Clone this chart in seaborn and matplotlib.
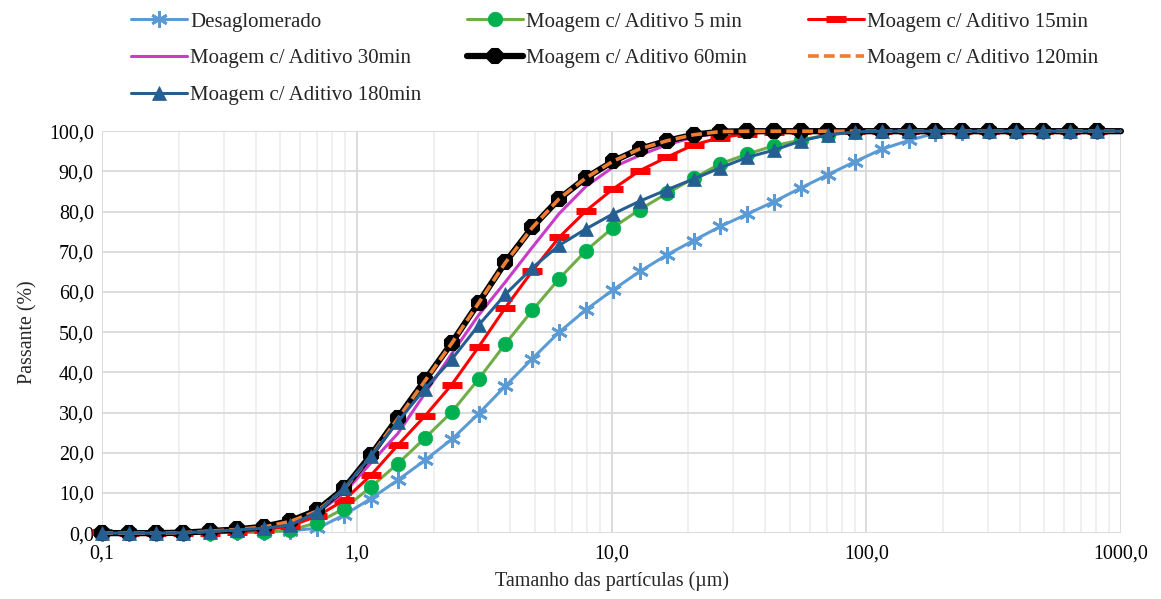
import matplotlib
matplotlib.use("Agg")
import matplotlib.pyplot as plt
from matplotlib.ticker import FixedLocator, LogLocator, NullFormatter, FuncFormatter
import seaborn as sns

# ---- data ----
sizes = [0.100, 0.128, 0.163, 0.207, 0.264, 0.337, 0.430, 0.548, 0.699, 0.891,
         1.136, 1.449, 1.848, 2.356, 3.004, 3.830, 4.884, 6.228, 7.941, 10.12,
         12.91, 16.46, 20.99, 26.76, 34.12, 43.51, 55.48, 70.74, 90.20, 115.0,
         146.7, 187.0, 238.4, 304.1, 387.7, 494.4, 630.4, 803.5, 1000.0]

desaglomerado = [0, 0, 0, 0, 0.1, 0.2, 0.4, 0.6, 1.2, 4.5,
                 8.6, 13.2, 18.1, 23.3, 29.7, 36.6, 43.4, 50.0, 55.6, 60.5,
                 65.1, 69.2, 72.8, 76.3, 79.4, 82.5, 85.9, 89.2, 92.4, 95.5,
                 97.7, 99.5, 99.9, 100, 100, 100, 100, 100, 100]

moagem_5 = [0, 0, 0, 0, 0.1, 0.2, 0.2, 0.7, 2.6, 6.1,
            11.5, 17.3, 23.6, 30.1, 38.3, 47.1, 55.4, 63.3, 70.3, 76.0,
            80.5, 84.5, 88.3, 91.9, 94.3, 96.4, 97.8, 99.1, 99.8, 100,
            100, 100, 100, 100, 100, 100, 100, 100, 100]

moagem_15 = [0.3, 0, 0, 0, 0.1, 0.3, 0.8, 1.8, 4.2, 8.2,
             14.4, 21.9, 29.1, 36.9, 46.3, 56.1, 65.2, 73.6, 80.2, 85.6,
             90.2, 93.5, 96.6, 98.4, 99.4, 99.9, 100, 100, 100, 100,
             100, 100, 100, 100, 100, 100, 100, 100, 100]

moagem_30 = [0, 0, 0, 0, 0.2, 0.6, 1.3, 2.5, 5.0, 10.0,
             17.5, 24.8, 34.7, 44.6, 54.2, 62.5, 71.1, 79.5, 86.3, 91.0,
             94.0, 96.6, 98.5, 99.6, 100, 100, 100, 100, 100, 100,
             100, 100, 100, 100, 100, 100, 100, 100, 100]

moagem_60 = [0, 0, 0, 0.1, 0.5, 0.9, 1.6, 3.0, 5.7, 11.1,
             19.4, 28.7, 38.0, 47.3, 57.3, 67.4, 76.1, 83.2, 88.4, 92.5,
             95.6, 97.6, 99.1, 99.9, 100, 100, 100, 100, 100, 100,
             100, 100, 100, 100, 100, 100, 100, 100, 100]

moagem_120 = [0, 0, 0, 0.1, 0.5, 0.9, 1.5, 2.9, 5.5, 10.9,
              19.2, 28.5, 37.8, 47.2, 57.2, 67.3, 76.0, 83.2, 88.4, 92.5,
              95.6, 97.6, 99.1, 99.9, 100, 100, 100, 100, 100, 100,
              100, 100, 100, 100, 100, 100, 100, 100, 100]

moagem_180 = [0, 0, 0, 0.1, 0.4, 0.8, 1.2, 2.0, 5.3, 11.1,
              19.2, 27.7, 35.9, 43.2, 51.7, 59.4, 66.0, 71.6, 75.7, 79.4,
              82.6, 85.4, 88.1, 90.9, 93.5, 95.3, 97.6, 99.1, 99.8, 100,
              100, 100, 100, 100, 100, 100, 100, 100, 100]

labels = ["Desaglomerado", "Moagem c/ Aditivo 5 min", "Moagem c/ Aditivo 15min",
          "Moagem c/ Aditivo 30min", "Moagem c/ Aditivo 60min",
          "Moagem c/ Aditivo 120min", "Moagem c/ Aditivo 180min"]
x_ticks = [0.1, 1, 10, 100, 1000]
x_tick_labels = ["0,1", "1,0", "10,0", "100,0", "1000,0"]
y_ticks = [0, 10, 20, 30, 40, 50, 60, 70, 80, 90, 100]

# ---- style ----
sns.set_theme(style="white")
plt.rcParams["font.family"] = ["Liberation Serif", "DejaVu Serif"]
FS = 14.4
LFS = 15.0

fig = plt.figure(figsize=(11.61, 5.99), dpi=100)
ax = fig.add_axes([0.088, 0.110, 0.8775, 0.671])

styles = [
    dict(color="#5B9BD5", lw=2.2, marker=(6, 2, 0), markersize=12,
         markeredgecolor="#5B9BD5", markerfacecolor="#5B9BD5", markeredgewidth=2.0),
    dict(color="#70AD47", lw=2.2, marker="o", markersize=10.5,
         markeredgecolor="#00B050", markerfacecolor="#00B050", markeredgewidth=0.5),
    dict(color="#FF0000", lw=2.2, marker="_", markersize=14,
         markeredgecolor="#FF0000", markerfacecolor="#FF0000", markeredgewidth=5),
    dict(color="#C83CC8", lw=2.2),
    dict(color="black", lw=4.5, marker="8", markersize=11,
         markeredgecolor="black", markerfacecolor="black", markeredgewidth=1.5),
    dict(color="#ED7D31", lw=2.6, dashes=(3.0, 1.4)),
    dict(color="#255E91", lw=2.2, marker="^", markersize=10,
         markeredgecolor="#255E91", markerfacecolor="#255E91", markeredgewidth=0.5),
]
series = [desaglomerado, moagem_5, moagem_15, moagem_30, moagem_60, moagem_120, moagem_180]
mark_idx = list(range(len(sizes) - 1))

for i, (vals, lab, st) in enumerate(zip(series, labels, styles)):
    st = dict(st)
    dashes = st.pop("dashes", None)
    if "marker" in st:
        st["markevery"] = mark_idx
    sns.lineplot(x=sizes, y=vals, ax=ax, label=lab, sort=False, zorder=3 + i,
                 clip_on=False, **st)
    if dashes is not None:
        ax.lines[-1].set_dashes(dashes)
        ax.lines[-1].set_dash_capstyle("butt")

if ax.get_legend() is not None:
    ax.get_legend().remove()

ax.set_xscale("log")
ax.set_xlim(0.1, 1000)
ax.set_ylim(0, 100)
ax.xaxis.set_major_locator(FixedLocator(x_ticks))
ax.xaxis.set_major_formatter(FuncFormatter(lambda v, p: x_tick_labels[x_ticks.index(v)] if v in x_ticks else ""))
ax.xaxis.set_minor_locator(LogLocator(base=10, subs=range(2, 10), numticks=100))
ax.xaxis.set_minor_formatter(NullFormatter())
ax.set_yticks(y_ticks)
ax.set_yticklabels([f"{v:.1f}".replace(".", ",") for v in y_ticks])
ax.tick_params(axis="both", which="both", length=0, labelsize=FS, colors="black")
ax.tick_params(axis="x", pad=8)
ax.tick_params(axis="y", pad=6)

ax.grid(True, which="major", color="#D9D9D9", lw=1.3, zorder=0)
ax.grid(True, which="minor", axis="x", color="#EEEEEE", lw=1.3, zorder=0)
ax.set_axisbelow(True)
for s in ["top", "right", "left", "bottom"]:
    ax.spines[s].set_visible(False)

ax.set_xlabel("Tamanho das partículas (µm)", fontsize=FS, labelpad=6)
ax.set_ylabel("Passante (%)", fontsize=FS, labelpad=8)

# legend: three equal-width columns, row-wise order as in the reference
handles, labs = ax.get_legend_handles_labels()
columns = [[0, 3, 6], [1, 4], [2, 5]]
col_x = [131 / 1161, 467 / 1161, 808 / 1161]
for cx, idxs in zip(col_x, columns):
    fig.legend([handles[i] for i in idxs], [labs[i] for i in idxs],
               loc="upper left", bbox_to_anchor=(cx, 1 - 12 / 599), ncol=1,
               frameon=False, fontsize=LFS, handlelength=2.7, handletextpad=0.15,
               labelspacing=0.82, borderpad=0, borderaxespad=0)

fig.savefig("out.png", dpi=100, facecolor="white")
